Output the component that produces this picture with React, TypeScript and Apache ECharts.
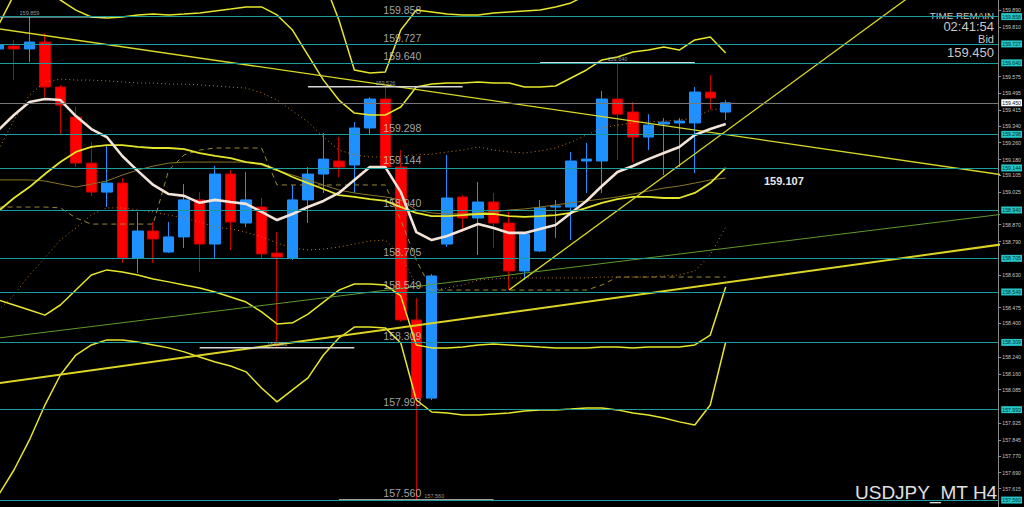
import React, { useEffect, useRef } from 'react';
import * as echarts from 'echarts';

// ---- data ----
// [open, close, low, high], one per H4 bar, oldest first
const CANDLES: number[][] = [
  [159.706, 159.725, 159.701, 159.730],
  [159.720, 159.706, 159.558, 159.749],
  [159.706, 159.739, 159.644, 159.859],
  [159.739, 159.525, 159.477, 159.782],
  [159.525, 159.439, 159.297, 159.534],
  [159.382, 159.163, 159.144, 159.430],
  [159.163, 159.025, 159.006, 159.263],
  [159.025, 159.068, 158.954, 159.249],
  [159.068, 158.712, 158.688, 159.092],
  [158.712, 158.840, 158.640, 158.931],
  [158.840, 158.802, 158.688, 158.883],
  [158.740, 158.812, 158.735, 158.883],
  [158.812, 158.988, 158.759, 159.063],
  [158.988, 158.778, 158.645, 159.025],
  [158.778, 159.111, 158.712, 159.149],
  [159.111, 158.883, 158.750, 159.130],
  [158.878, 158.988, 158.859, 159.120],
  [158.954, 158.731, 158.712, 158.997],
  [158.735, 158.716, 158.285, 158.835],
  [158.712, 158.988, 158.702, 159.059],
  [158.988, 159.111, 158.878, 159.144],
  [159.111, 159.182, 159.021, 159.306],
  [159.173, 159.144, 159.096, 159.287],
  [159.154, 159.330, 159.021, 159.358],
  [159.330, 159.468, 159.297, 159.477],
  [159.468, 159.144, 159.130, 159.526],
  [159.144, 158.417, 158.408, 159.225],
  [158.417, 158.045, 157.560, 158.521],
  [158.045, 158.626, 158.036, 158.635],
  [158.778, 158.997, 158.764, 159.201],
  [159.002, 158.902, 158.835, 159.011],
  [158.902, 158.978, 158.726, 159.073],
  [158.978, 158.878, 158.759, 159.021],
  [158.878, 158.650, 158.560, 158.931],
  [158.650, 158.826, 158.607, 158.835],
  [158.745, 158.950, 158.740, 158.988],
  [158.954, 158.959, 158.807, 158.988],
  [158.954, 159.173, 158.797, 159.216],
  [159.173, 159.182, 159.021, 159.259],
  [159.173, 159.468, 159.021, 159.506],
  [159.468, 159.396, 159.178, 159.640],
  [159.406, 159.287, 159.168, 159.454],
  [159.287, 159.344, 159.225, 159.396],
  [159.349, 159.358, 159.106, 159.377],
  [159.354, 159.363, 159.144, 159.377],
  [159.354, 159.501, 159.116, 159.525],
  [159.501, 159.473, 159.416, 159.582],
  [159.406, 159.450, 159.368, 159.463],
];

const MA_LINE = [159.321,159.392,159.454,159.468,159.463,159.387,159.325,159.287,159.197,159.126,159.059,159.016,159.007,158.974,158.988,158.978,158.969,158.931,158.892,158.921,158.954,158.983,159.021,159.083,159.144,159.144,159.025,158.835,158.797,158.816,158.845,158.873,158.854,158.831,158.831,158.850,158.869,158.926,158.983,159.054,159.121,159.149,159.182,159.211,159.240,159.297,159.325,159.349];

const BAND_MID = [158.935,158.997,159.049,159.111,159.168,159.216,159.240,159.249,159.249,159.240,159.235,159.235,159.230,159.211,159.197,159.187,159.168,159.159,159.130,159.097,159.068,159.040,159.011,159.002,158.992,158.983,158.954,158.926,158.911,158.911,158.916,158.921,158.921,158.911,158.907,158.911,158.916,158.926,158.950,158.974,158.992,159.002,159.002,158.997,158.997,159.021,159.068,159.140];

const BAND_UP2 = [159.820,159.963,160.034,159.987,159.939,159.891,159.858,159.853,159.858,159.868,159.872,159.868,159.872,159.877,159.887,159.896,159.906,159.906,159.868,159.796,159.677,159.558,159.463,159.401,159.392,159.392,159.430,159.525,159.539,159.544,159.544,159.549,159.544,159.544,159.525,159.525,159.530,159.568,159.606,159.654,159.668,159.692,159.701,159.715,159.701,159.749,159.763,159.687];

const BAND_UP3 = [160.1,160.1,160.1,160.1,160.1,160.1,160.1,160.1,160.1,160.1,160.1,160.1,160.1,160.1,160.1,160.1,160.1,160.1,160.1,160.1,160.1,160.034,159.844,159.606,159.592,159.596,159.796,159.891,159.882,159.872,159.868,159.868,159.877,159.882,159.887,159.891,159.906,159.925,159.963,160.1,160.1,160.1,160.1,160.1,160.1,160.1,160.1,160.1];

const BAND_LOW2 = [158.512,158.488,158.464,158.440,158.488,158.559,158.631,158.655,158.645,158.631,158.612,158.598,158.583,158.569,158.550,158.526,158.502,158.455,158.398,158.403,158.445,158.502,158.559,158.588,158.588,158.583,158.531,158.298,158.284,158.284,158.288,158.298,158.303,158.298,158.293,158.288,158.284,158.284,158.284,158.288,158.288,158.284,158.288,158.288,158.288,158.298,158.345,158.574];

const BAND_LOW3 = [157.584,157.703,157.846,158.012,158.155,158.250,158.298,158.322,158.322,158.312,158.298,158.284,158.265,158.241,158.217,158.198,158.170,158.093,158.027,158.084,158.141,158.250,158.331,158.383,158.383,158.379,158.307,158.036,157.979,157.974,157.965,157.965,157.970,157.974,157.984,157.989,157.989,157.993,157.998,157.998,157.989,157.974,157.965,157.950,157.932,157.917,158.012,158.312];

const DOT_UP = [159.225,159.368,159.487,159.549,159.563,159.558,159.558,159.554,159.549,159.544,159.544,159.539,159.539,159.535,159.530,159.525,159.520,159.497,159.463,159.411,159.359,159.287,159.225,159.202,159.192,159.192,159.197,159.202,159.206,159.216,159.225,159.240,159.225,159.216,159.211,159.221,159.235,159.263,159.297,159.330,159.344,159.354,159.359,159.363,159.368,159.378,159.416,159.425];

const DOT_LOW = [158.464,158.536,158.631,158.712,158.797,158.854,158.916,158.950,158.950,158.940,158.931,158.916,158.902,158.883,158.859,158.850,158.835,158.812,158.783,158.759,158.750,158.754,158.764,158.778,158.792,158.797,158.726,158.583,158.559,158.569,158.583,158.607,158.612,158.617,158.617,158.617,158.617,158.617,158.617,158.621,158.621,158.621,158.621,158.626,158.631,158.650,158.726,158.859];

const OLIVE_LINE = [159.083,159.083,159.083,159.078,159.063,159.049,159.063,159.078,159.106,159.130,159.149,159.163,159.168,159.168,159.168,159.168,159.168,159.154,159.130,159.106,159.083,159.059,159.035,159.021,159.011,159.002,158.988,158.940,158.926,158.921,158.921,158.926,158.931,158.940,158.945,158.954,158.964,158.974,158.983,158.992,159.002,159.016,159.030,159.044,159.054,159.068,159.083,159.092];

const DASH_STEP = [158.954,158.954,158.954,158.954,158.950,158.902,158.873,158.873,158.873,158.873,158.873,159.130,159.202,159.225,159.235,159.235,159.235,159.235,159.059,159.059,159.059,159.059,159.059,159.059,159.059,159.059,158.892,158.702,158.559,158.559,158.559,158.559,158.559,158.559,158.559,158.559,158.559,158.559,158.559,158.583,158.621,158.621,158.621,158.621,158.621,158.621,158.621,158.621];

// trend lines: [bar index, price]
const TREND_T1 = [[0, 159.802], [65, 159.106]];
const TREND_T2 = [[33, 158.560], [60, 160.015]];
const TREND_T3 = [[0, 158.116], [65, 158.778]];
const TREND_T4 = [[0, 158.331], [65, 158.921]];

const LEVELS = [159.858, 159.727, 159.640, 159.298, 159.144, 158.940, 158.705, 158.549, 158.309, 157.993, 157.560];
const BID = 159.450;
const TICKS = [159.890, 159.810, 159.575, 159.495, 159.415, 159.340, 159.260, 159.180, 159.105, 159.025, 158.870, 158.790, 158.630, 158.475, 158.400, 158.240, 158.160, 158.085, 157.925, 157.845, 157.770, 157.690, 157.615];

// high/low markers: bar index & price
const HL_INDEX = [2, 25, 40, 18, 27];
const HL_PRICE = [159.859, 159.526, 159.640, 158.285, 157.560];

const TREND_LABEL = '159.107';
const SYMBOL_TEXT = 'USDJPY_MT H4';
const TIME_TEXT = '02:41:54';

// ---- layout constants ----
const Y_MIN = 157.527;
const Y_MAX = 159.939;
const X_MIN = 0.097;
const X_MAX = 64.613;
const LEVEL_LABEL_X = 24.87;
const HL_HALF = 5;

const YELLOW = '#e6e62a';
const TEAL = '#1d9c9c';
const FONT = 'Liberation Sans, Arial, sans-serif';

const indexed = (arr: number[]) => arr.map((v, i) => [i, v]);

function line(name: string, data: any[], color: string, width: number, type: any = 'solid', extra: any = {}) {
  return {
    type: 'line', name, data, symbol: 'none', silent: true, clip: true, z: 3,
    lineStyle: { color, width, type }, ...extra,
  };
}

export default function App() {
  const ref = useRef<HTMLDivElement>(null);
  useEffect(() => {
    if (!ref.current) return;
    const chart = echarts.init(ref.current, undefined, { renderer: 'svg' });

    const levelMarks: any[] = LEVELS.map((v) => ({
      yAxis: v,
      lineStyle: { color: TEAL, width: 1, type: 'solid' },
      label: {
        show: true, position: 'end', distance: 3, formatter: v.toFixed(3),
        backgroundColor: '#26c6c6', color: '#04302f', fontSize: 5.2, padding: [1, 1, 1, 1], fontFamily: FONT,
      },
    }));
    levelMarks.push({
      yAxis: BID,
      lineStyle: { color: '#777777', width: 1, type: 'solid' },
      label: {
        show: true, position: 'end', distance: 3, formatter: BID.toFixed(3),
        backgroundColor: '#ffffff', color: '#111111', fontSize: 5.2, padding: [1, 1, 1, 1], fontFamily: FONT,
      },
    });

    const hlSeries = HL_INDEX.map((idx, k) =>
      line('hl' + k, [[idx - HL_HALF, HL_PRICE[k]], [idx + HL_HALF, HL_PRICE[k]]], '#d6d6d6', 1.5)
    );

    const option: any = {
      backgroundColor: '#000000',
      animation: false,
      grid: { left: 0, right: 24, top: 0, bottom: 0 },
      xAxis: { type: 'value', min: X_MIN, max: X_MAX, show: false, splitLine: { show: false } },
      yAxis: {
        type: 'value', position: 'right', min: Y_MIN, max: Y_MAX, scale: true,
        splitLine: { show: false },
        axisLine: { show: true, lineStyle: { color: '#8a8a8a', width: 1 } },
        axisTick: { show: true, length: 3, customValues: TICKS, lineStyle: { color: '#8a8a8a' } },
        axisLabel: {
          show: true, customValues: TICKS, color: '#c4c4c4', fontSize: 5.2, margin: 4, fontFamily: FONT,
          formatter: (v: number) => v.toFixed(3),
        },
      },
      series: [
        {
          type: 'candlestick', name: 'USDJPY', data: CANDLES.map((c, i) => [i, ...c]), barWidth: 11, z: 2,
          encode: { x: 0, y: [1, 2, 3, 4] },
          itemStyle: { color: '#1e90ff', color0: '#ff0000', borderColor: '#1e90ff', borderColor0: '#c80000', borderWidth: 1 },
          markLine: { symbol: ['none', 'none'], silent: true, animation: false, data: levelMarks },
        },
        line('dashStep', indexed(DASH_STEP), '#9a8a34', 1, [5, 4]),
        line('olive', indexed(OLIVE_LINE), '#8a7424', 1),
        line('dotUp', indexed(DOT_UP), '#c27a22', 1, [1, 3]),
        line('dotLow', indexed(DOT_LOW), '#c27a22', 1, [1, 3]),
        line('up3', indexed(BAND_UP3), YELLOW, 1.5),
        line('up2', indexed(BAND_UP2), YELLOW, 1.5),
        line('mid', indexed(BAND_MID), YELLOW, 1.8),
        line('low2', indexed(BAND_LOW2), YELLOW, 1.5),
        line('low3', indexed(BAND_LOW3), YELLOW, 1.5),
        line('t1', TREND_T1, '#d8d828', 1.3),
        line('t2', TREND_T2, '#d8d828', 1.3),
        line('t3', TREND_T3, '#dcd424', 2),
        line('t4', TREND_T4, '#5e9a2c', 1),
        line('ma', indexed(MA_LINE), '#f4e4d8', 2.6, 'solid', { z: 4 }),
        ...hlSeries,
        {
          type: 'scatter', name: 'hlLabels', symbolSize: 0, silent: true, z: 5,
          data: HL_INDEX.map((idx, k) => [idx, HL_PRICE[k]]),
          label: {
            show: true, position: 'top', distance: 1, color: '#bdbdbd', fontSize: 5.5, fontFamily: FONT,
            formatter: (p: any) => p.value[1].toFixed(3),
          },
          labelLayout: (p: any) => (p.dataIndex === 4 ? { dx: 18 } : {}),
        },
        {
          type: 'scatter', name: 'levelLabels', symbolSize: 0, silent: true, z: 6,
          data: LEVELS.map((v) => [LEVEL_LABEL_X, v]),
          label: {
            show: true, position: 'right', distance: 0, offset: [0, -7], color: '#cfcfcf', fontSize: 10.5, fontFamily: FONT,
            formatter: (p: any) => p.value[1].toFixed(3),
          },
        },
      ],
      graphic: [
        { type: 'text', x: 994, y: 10.5, style: { text: 'TIME REMAIN', fill: '#c8c8c8', font: `9.8px ${FONT}`, textAlign: 'right', textVerticalAlign: 'top' } },
        { type: 'text', x: 994, y: 20, style: { text: TIME_TEXT, fill: '#c8c8c8', font: `13px ${FONT}`, textAlign: 'right', textVerticalAlign: 'top' } },
        { type: 'text', x: 994, y: 33, style: { text: 'Bid', fill: '#c8c8c8', font: `11px ${FONT}`, textAlign: 'right', textVerticalAlign: 'top' } },
        { type: 'text', x: 994, y: 46, style: { text: BID.toFixed(3), fill: '#c8c8c8', font: `13px ${FONT}`, textAlign: 'right', textVerticalAlign: 'top' } },
        { type: 'text', x: 764, y: 175, style: { text: TREND_LABEL, fill: '#e8e8e8', font: `bold 11px ${FONT}`, textAlign: 'left', textVerticalAlign: 'top' } },
        { type: 'text', x: 855, y: 483, style: { text: SYMBOL_TEXT, fill: '#e0e0e0', font: `19px ${FONT}`, textAlign: 'left', textVerticalAlign: 'top' } },
      ],
    };
    chart.setOption(option);
    return () => chart.dispose();
  }, []);
  return <div ref={ref} style={{ position: 'fixed', left: 0, top: 0, width: 1024, height: 507, background: '#000' }} />;
}
